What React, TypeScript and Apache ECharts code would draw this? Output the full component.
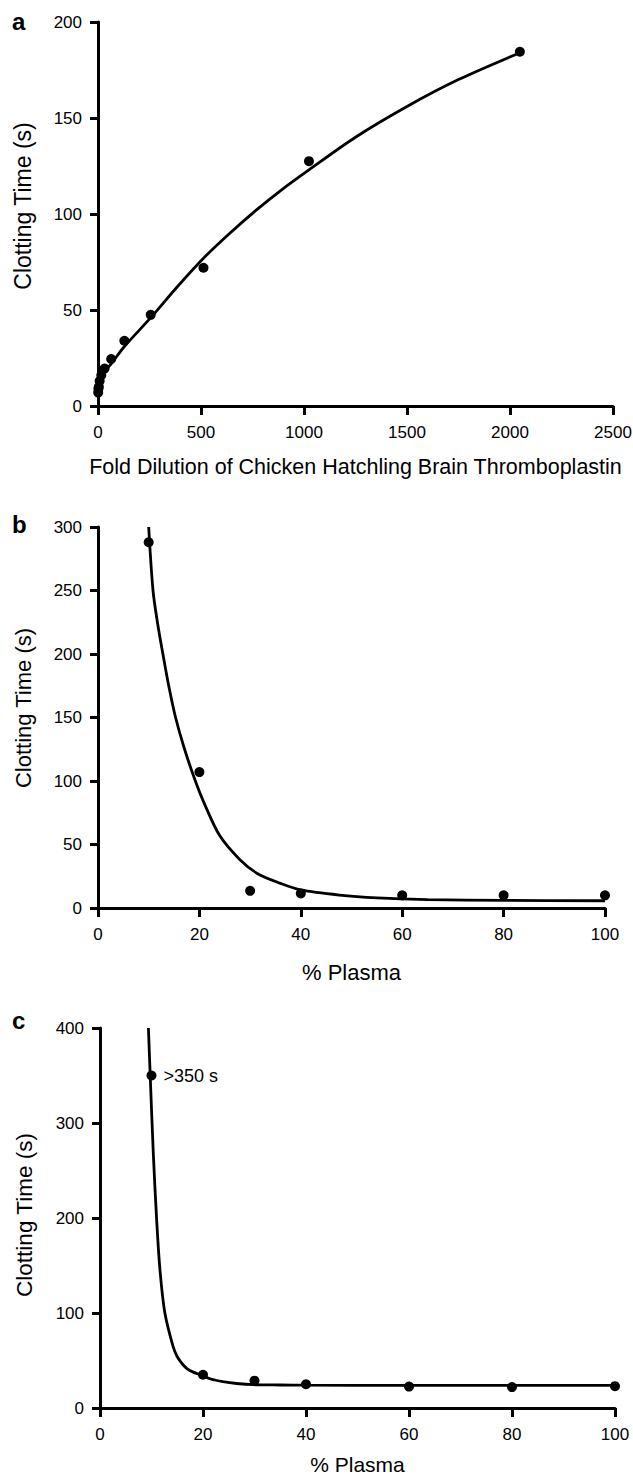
import React, { useEffect, useRef } from "react";
import * as echarts from "echarts";

// Panel a: fold dilution vs clotting time
const aDilution = [1, 2, 4, 8, 16, 32, 64, 128, 256, 512, 1024, 2048];
const aTime = [7, 9, 10, 13, 16, 19.5, 24.5, 34, 47.5, 72, 127.5, 184.5];
const aFitX = [1, 8, 16, 32, 64, 128, 256, 384, 512, 640, 768, 896, 1024, 1250, 1500, 1750, 2048];
const aFitY = [7, 13, 15.5, 18, 22, 31, 46, 62, 77, 90, 102, 113, 123, 140, 156, 170, 184];

// Panel b: % plasma vs clotting time
const bPlasma = [10, 20, 30, 40, 60, 80, 100];
const bTime = [288, 107, 13.5, 11.5, 10, 10, 10];
const bFitX = [10, 10.85, 11.8, 12.8, 14, 15.3, 17, 19.2, 21, 24, 28, 31.5, 36, 40, 47.6, 55, 65, 80, 100];
const bFitY = [300, 250, 223, 200, 174, 150, 126, 100, 82, 57, 38, 27, 19.4, 14.2, 10.2, 8, 6.6, 6, 5.7];

// Panel c: % plasma vs clotting time
const cPlasma = [10, 20, 30, 40, 60, 80, 100];
const cTime = [350, 35, 28.8, 25, 22.5, 22, 23];
const cFitX = [9.4, 9.75, 10.35, 11, 11.65, 12.6, 14.2, 15, 16.2, 17, 18, 19.7, 21.5, 23.9, 26.5, 29.8, 35, 40, 60, 80, 100];
const cFitY = [400, 350, 268, 198, 145, 100, 64.5, 54, 45, 41, 38, 34.5, 30.5, 27.7, 25.8, 24.5, 24.2, 24, 23.8, 23.8, 23.8];
const cAnnotation = ">350 s";

const yTitle = "Clotting Time (s)";
const aXTitle = "Fold Dilution of Chicken Hatchling Brain Thromboplastin";
const plasmaTitle = "% Plasma";
const panelLetters = ["a", "b", "c"];

const FONT = "'Liberation Sans', Arial, Helvetica, sans-serif";

function makeX(gi: number, max: number, interval: number, name: string, nameSize: number, nameGap: number) {
  return {
    type: "value",
    gridIndex: gi,
    min: 0,
    max,
    interval,
    name,
    nameLocation: "middle",
    nameGap,
    nameTextStyle: { color: "#000", fontSize: nameSize, fontFamily: FONT },
    axisLine: { show: true, onZero: false, lineStyle: { color: "#000", width: 3, opacity: 1 } },
    axisTick: { show: true, inside: false, length: 9, lineStyle: { color: "#000", width: 3, opacity: 1 } },
    axisLabel: {
      show: true,
      color: "#000",
      fontSize: 17,
      fontFamily: FONT,
      margin: 18,
      formatter: (v: number) => String(v),
    },
    splitLine: { show: false },
  };
}

function makeY(gi: number, max: number, interval: number, nameSize: number, nameGap: number, shift: number) {
  return {
    type: "value",
    gridIndex: gi,
    min: 0,
    max,
    interval,
    name: yTitle,
    nameLocation: "middle",
    nameRotate: 90,
    nameGap,
    nameTextStyle: { color: "#000", fontSize: nameSize, fontFamily: FONT, padding: [0, 0, 0, shift] },
    axisLine: { show: true, onZero: false, lineStyle: { color: "#000", width: 3, opacity: 1 } },
    axisTick: { show: true, inside: false, length: 8, lineStyle: { color: "#000", width: 3, opacity: 1 } },
    axisLabel: {
      show: true,
      color: "#000",
      fontSize: 17,
      fontFamily: FONT,
      margin: 16,
      formatter: (v: number) => String(v),
    },
    splitLine: { show: false },
  };
}

export default function App() {
  const ref = useRef<HTMLDivElement>(null);
  useEffect(() => {
    if (!ref.current) return;
    const chart = echarts.init(ref.current, null, { renderer: "svg" });
    const pts = (xs: number[], ys: number[]) => xs.map((x, i) => [x, ys[i]]);
    const lineS = (gi: number, xs: number[], ys: number[]) => ({
      type: "line",
      xAxisIndex: gi,
      yAxisIndex: gi,
      data: pts(xs, ys),
      smooth: 0.3,
      showSymbol: false,
      lineStyle: { color: "#000", width: 2.8 },
      z: 2,
    });
    const scatS = (gi: number, data: any[]) => ({
      type: "scatter",
      xAxisIndex: gi,
      yAxisIndex: gi,
      data,
      symbol: "circle",
      symbolSize: 10,
      itemStyle: { color: "#000", opacity: 1 },
      z: 3,
    });
    const cData: any[] = pts(cPlasma, cTime).map((p, i) =>
      i === 0
        ? {
            value: p,
            label: {
              show: true,
              position: "right",
              distance: 7,
              formatter: cAnnotation,
              color: "#000",
              fontSize: 18,
              fontFamily: FONT,
            },
          }
        : p
    );
    const letterY = [22, 525, 1021];
    chart.setOption({
      animation: false,
      backgroundColor: "#fff",
      grid: [
        { left: 98, top: 22, width: 515, height: 384, outerBoundsMode: "none", containLabel: false },
        { left: 98, top: 527, width: 507, height: 381, outerBoundsMode: "none", containLabel: false },
        { left: 100, top: 1028, width: 515, height: 380, outerBoundsMode: "none", containLabel: false },
      ],
      xAxis: [
        makeX(0, 2500, 500, aXTitle, 21.5, 50),
        makeX(1, 100, 20, plasmaTitle, 22, 53),
        makeX(2, 100, 20, plasmaTitle, 21, 46),
      ],
      yAxis: [
        makeY(0, 200, 50, 23, 64, 16),
        makeY(1, 300, 50, 22, 64, 19),
        makeY(2, 400, 100, 22.5, 64, 6),
      ],
      graphic: panelLetters.map((t, i) => ({
        type: "text",
        left: 12,
        top: letterY[i] - 13,
        style: { text: t, fontSize: 24, fontWeight: "bold", fontFamily: FONT, fill: "#000" },
      })),
      series: [
        lineS(0, aFitX, aFitY),
        scatS(0, pts(aDilution, aTime)),
        lineS(1, bFitX, bFitY),
        scatS(1, pts(bPlasma, bTime)),
        lineS(2, cFitX, cFitY),
        scatS(2, cData),
      ],
    });
    return () => chart.dispose();
  }, []);
  return (
    <div
      ref={ref}
      style={{ position: "absolute", left: 0, top: 0, width: 633, height: 1477, background: "#fff" }}
    />
  );
}
